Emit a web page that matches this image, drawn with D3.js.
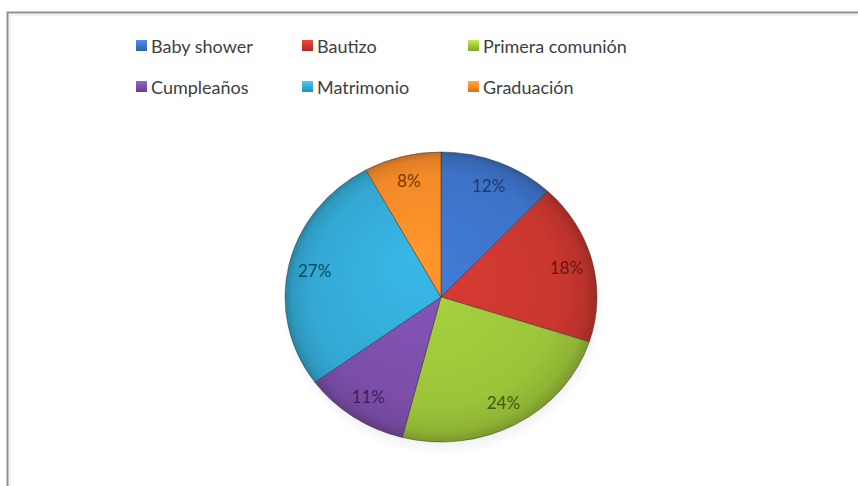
<!DOCTYPE html>
<html>
<head>
<meta charset="utf-8">
<script src="https://cdn.jsdelivr.net/npm/d3@7"></script>
<style>
  html, body { margin: 0; padding: 0; background: #fff; }
  svg { display: block; }
</style>
</head>
<body>
<svg id="chart" width="858" height="486"></svg>
<script>
// Event types and their share of the total (percent)
const categories = ["Baby shower", "Bautizo", "Primera comunión", "Cumpleaños", "Matrimonio", "Graduación"];
const values = [12, 18, 24, 11, 27, 8];
const fills = ["#3d72c6", "#c9372f", "#9cc43a", "#7b4ea9", "#33a8d3", "#f38a28"];
const labelInk = ["#1c3a75", "#6a1713", "#3d5a10", "#3a1f5e", "#0e4a63", "#763806"];

const svg = d3.select("#chart");
const W = 858, H = 486;

// Frame of the chart area (only top and left edges fall inside the view)
svg.append("rect")
  .attr("x", 7.5).attr("y", 12.5)
  .attr("width", W + 20).attr("height", H + 20)
  .attr("fill", "#fff")
  .attr("stroke", "#8f8f8f").attr("stroke-width", 2);
svg.append("rect")
  .attr("x", 10).attr("y", 15)
  .attr("width", W + 20).attr("height", H + 20)
  .attr("fill", "none")
  .attr("stroke", "#e3e3e3").attr("stroke-width", 1);

const defs = svg.append("defs");

// Lit, bevelled look for each colour
fills.forEach((c, i) => {
  const g = defs.append("radialGradient")
    .attr("id", "slice" + i)
    .attr("gradientUnits", "userSpaceOnUse")
    .attr("cx", 0).attr("cy", 0).attr("r", 156)
    .attr("fx", -30).attr("fy", -40);
  const base = d3.color(c);
  g.append("stop").attr("offset", "0%").attr("stop-color", base.brighter(0.25));
  g.append("stop").attr("offset", "80%").attr("stop-color", base);
  g.append("stop").attr("offset", "94%").attr("stop-color", base.darker(0.25));
  g.append("stop").attr("offset", "100%").attr("stop-color", base.darker(0.7));

  const lg = defs.append("linearGradient")
    .attr("id", "key" + i)
    .attr("x1", 0).attr("y1", 0).attr("x2", 0).attr("y2", 1);
  lg.append("stop").attr("offset", "0%").attr("stop-color", base.brighter(0.6));
  lg.append("stop").attr("offset", "55%").attr("stop-color", base);
  lg.append("stop").attr("offset", "100%").attr("stop-color", base.darker(0.5));
});

const shadow = defs.append("radialGradient").attr("id", "pieShadow");
shadow.append("stop").attr("offset", "70%").attr("stop-color", "#000").attr("stop-opacity", 0.18);
shadow.append("stop").attr("offset", "100%").attr("stop-color", "#000").attr("stop-opacity", 0);

// Pie geometry: slightly tilted disc
const cx = 441, cy = 297, R = 156, tilt = 145 / 156;

svg.append("ellipse")
  .attr("cx", cx + 2).attr("cy", cy + 8)
  .attr("rx", R + 6).attr("ry", R * tilt + 6)
  .attr("fill", "url(#pieShadow)");

const pie = d3.pie().sort(null).value(d => d.value);
const arcs = pie(categories.map((name, i) => ({ name, value: values[i], i })));
const arc = d3.arc().innerRadius(0).outerRadius(R);
const labelArc = d3.arc().innerRadius(R * 0.83).outerRadius(R * 0.83);

const pieG = svg.append("g")
  .attr("transform", `translate(${cx},${cy}) scale(1,${tilt})`);

pieG.selectAll("path.slice")
  .data(arcs)
  .join("path")
  .attr("class", "slice")
  .attr("d", arc)
  .attr("fill", d => `url(#slice${d.data.i})`)
  .attr("stroke", "rgba(40,40,40,0.45)")
  .attr("stroke-width", 1)
  .attr("stroke-linejoin", "round");

// Percentage labels
const labelG = svg.append("g").attr("transform", `translate(${cx},${cy})`);
labelG.selectAll("text")
  .data(arcs)
  .join("text")
  .attr("x", d => labelArc.centroid(d)[0])
  .attr("y", d => labelArc.centroid(d)[1] * tilt)
  .attr("text-anchor", "middle")
  .attr("dominant-baseline", "central")
  .attr("font-family", "Lato, 'Open Sans', sans-serif")
  .attr("font-size", 17)
  .attr("fill", d => labelInk[d.data.i])
  .text(d => d3.format(".0%")(d.data.value / 100));

// Legend: three columns, two rows
const colX = [136, 302, 468];
const rowY = [46, 87];
const legend = svg.append("g");
categories.forEach((name, i) => {
  const x = colX[i % 3], y = rowY[Math.floor(i / 3)];
  legend.append("rect")
    .attr("x", x).attr("y", y - 6)
    .attr("width", 11).attr("height", 11)
    .attr("fill", `url(#key${i})`);
  legend.append("text")
    .attr("x", x + 15).attr("y", y)
    .attr("dominant-baseline", "central")
    .attr("font-family", "Lato, 'Open Sans', sans-serif")
    .attr("font-size", 18)
    .attr("fill", "#404040")
    .text(name);
});
</script>
</body>
</html>
